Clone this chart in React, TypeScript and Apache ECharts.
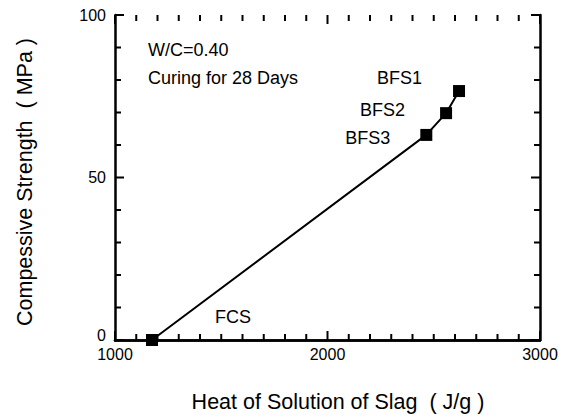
import React, { useEffect, useRef } from "react";
import * as echarts from "echarts";

const names = ["FCS", "BFS3", "BFS2", "BFS1"];
const heatOfSolution = [1174, 2465, 2558, 2619];
const strength = [0, 63.1, 69.8, 76.6];
const xTicks = [1000, 2000, 3000];
const yTicks = [0, 50, 100];
const xMinorStep = 100;
const yMinorStep = 10;
const notes = ["W/C=0.40", "Curing for 28 Days"];
const xTitle = "Heat of Solution of Slag\u00a0\u00a0(\u00a0J/g\u00a0)";
const yTitle = "Compessive Strength\u00a0\u00a0(\u00a0MPa\u00a0)";

const FONT = "'Liberation Sans', Arial, Helvetica, sans-serif";
const labelLayout: Record<string, { position: string; offset: number[] }> = {
  FCS: { position: "right", offset: [52, -23] },
  BFS3: { position: "left", offset: [-25, 3] },
  BFS2: { position: "left", offset: [-30, -3] },
  BFS1: { position: "left", offset: [-26, -13] },
};

export default function App() {
  const ref = useRef<HTMLDivElement>(null);
  useEffect(() => {
    if (!ref.current) return;
    const chart = echarts.init(ref.current, null, { renderer: "svg" });
    const xMin = xTicks[0];
    const xMax = xTicks[xTicks.length - 1];
    const yMin = yTicks[0];
    const yMax = yTicks[yTicks.length - 1];

    const axisLine = () => ({ show: true, lineStyle: { color: "#000", width: 2.5 } });
    const xBase = () => ({
      type: "value",
      min: xMin,
      max: xMax,
      interval: xTicks[1] - xTicks[0],
      axisLine: axisLine(),
      axisTick: { show: false },
      splitLine: { show: false },
    });
    const yBase = () => ({
      type: "value",
      min: yMin,
      max: yMax,
      interval: yTicks[1] - yTicks[0],
      axisLine: axisLine(),
      axisTick: { show: false },
      splitLine: { show: false },
    });
    const textGraphics = [
      {
        type: "text",
        x: 148,
        y: 50,
        style: { text: notes[0], fill: "#000", font: `18px ${FONT}`, align: "left", verticalAlign: "middle" },
      },
      {
        type: "text",
        x: 148,
        y: 78,
        style: { text: notes[1], fill: "#000", font: `18px ${FONT}`, align: "left", verticalAlign: "middle" },
      },
      {
        type: "text",
        x: 338,
        y: 402,
        style: { text: xTitle, fill: "#000", font: `21.5px ${FONT}`, align: "center", verticalAlign: "middle" },
      },
      {
        type: "text",
        x: 25,
        y: 182,
        rotation: Math.PI / 2,
        style: { text: yTitle, fill: "#000", font: `21.5px ${FONT}`, align: "center", verticalAlign: "middle" },
      },
    ];
    chart.setOption({
      animation: false,
      backgroundColor: "#fff",
      grid: { left: 115, right: 31, top: 15, bottom: 78 },
      xAxis: [
        {
          ...xBase(),
          position: "bottom",
          axisLabel: { color: "#000", fontSize: 16, fontFamily: FONT, margin: 6, formatter: (v: number) => String(v) },
        },
        { ...xBase(), position: "top", axisLabel: { show: false } },
      ],
      yAxis: [
        {
          ...yBase(),
          position: "left",
          axisLabel: {
            color: "#000",
            fontSize: 16,
            fontFamily: FONT,
            margin: 9,
            formatter: (v: number) => (v === yMin ? `{z|${v}}` : String(v)),
            rich: { z: { fontSize: 16, fontFamily: FONT, color: "#000", padding: [0, 0, 9, 0] } },
          },
        },
        { ...yBase(), position: "right", axisLabel: { show: false } },
      ],
      series: [
        {
          type: "line",
          xAxisIndex: 0,
          yAxisIndex: 0,
          symbol: "rect",
          symbolSize: 12,
          lineStyle: { color: "#000", width: 2 },
          itemStyle: { color: "#000" },
          data: names.map((n, i) => ({
            name: n,
            value: [heatOfSolution[i], strength[i]],
            label: {
              show: true,
              formatter: n,
              position: labelLayout[n].position,
              offset: labelLayout[n].offset,
              color: "#000",
              fontSize: 18,
              fontFamily: FONT,
            },
          })),
        },
      ],
      graphic: textGraphics,
    });

    // Frame tick marks on all four sides, placed through the chart's own scales.
    const toPx = (x: number, y: number) => chart.convertToPixel({ gridIndex: 0 }, [x, y]) as number[];
    const tickStyle = () => ({ stroke: "#000", lineWidth: 2 });
    const ticks: any[] = [];
    for (let v = xMin; v <= xMax + 1e-9; v += xMinorStep) {
      const len = xTicks.includes(v) ? 9 : 6;
      const b = toPx(v, yMin);
      const t = toPx(v, yMax);
      ticks.push({ type: "line", z: 100, shape: { x1: b[0], y1: b[1], x2: b[0], y2: b[1] - len }, style: tickStyle() });
      ticks.push({ type: "line", z: 100, shape: { x1: t[0], y1: t[1], x2: t[0], y2: t[1] + len }, style: tickStyle() });
    }
    for (let v = yMin; v <= yMax + 1e-9; v += yMinorStep) {
      const len = yTicks.includes(v) ? 9 : 6;
      const l = toPx(xMin, v);
      const r = toPx(xMax, v);
      ticks.push({ type: "line", z: 100, shape: { x1: l[0], y1: l[1], x2: l[0] + len, y2: l[1] }, style: tickStyle() });
      ticks.push({ type: "line", z: 100, shape: { x1: r[0], y1: r[1], x2: r[0] - len, y2: r[1] }, style: tickStyle() });
    }
    chart.setOption({ graphic: [...textGraphics, ...ticks] }, { replaceMerge: ["graphic"] });

    return () => chart.dispose();
  }, []);
  return (
    <div
      ref={ref}
      style={{ position: "absolute", left: 0, top: 0, width: 571, height: 418 }}
    />
  );
}
